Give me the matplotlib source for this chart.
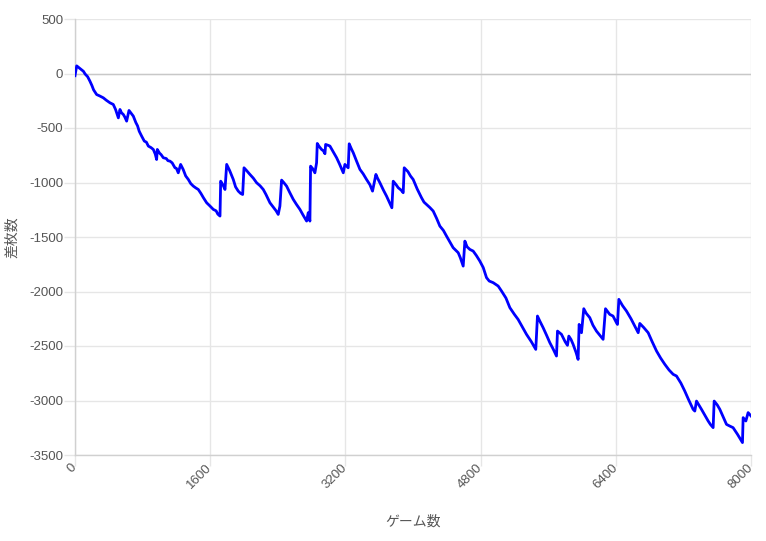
import matplotlib
matplotlib.use("Agg")
import matplotlib.pyplot as plt

games = [0, 20, 60, 100, 120, 150, 177, 200, 220, 256, 290, 335, 370, 414, 453, 480,
         513, 532, 550, 572, 590, 611, 639, 660, 690, 720, 740, 760, 789, 820, 845,
         868, 900, 927, 950, 966, 974, 1000, 1020, 1045, 1080, 1100, 1124, 1150, 1183,
         1200, 1222, 1250, 1280, 1310, 1341, 1370, 1400, 1430, 1459, 1490, 1520, 1558,
         1590, 1637, 1670, 1690, 1716, 1724, 1750, 1775, 1795, 1830, 1873, 1900, 1932,
         1960, 1984, 2000, 2030, 2070, 2110, 2149, 2190, 2228, 2260, 2307, 2350, 2380,
         2405, 2425, 2445, 2470, 2504, 2540, 2583, 2620, 2662, 2700, 2741, 2760, 2780,
         2788, 2810, 2839, 2859, 2867, 2890, 2918, 2940, 2958, 2966, 3000, 3017, 3050,
         3096, 3130, 3175, 3194, 3233, 3245, 3270, 3293, 3330, 3372, 3410, 3450, 3490,
         3521, 3561, 3580, 3608, 3650, 3687, 3720, 3750, 3766, 3800, 3825, 3860, 3884,
         3896, 3940, 3970, 4002, 4050, 4101, 4130, 4160, 4200, 4239, 4280, 4318, 4360,
         4397, 4440, 4475, 4535, 4560, 4594, 4614, 4640, 4673, 4712, 4750, 4791, 4831,
         4870, 4902, 4949, 5008, 5048, 5100, 5146, 5200, 5244, 5290, 5343, 5400, 5453,
         5473, 5500, 5540, 5580, 5619, 5660, 5698, 5710, 5757, 5800, 5828, 5844, 5870,
         5895, 5930, 5954, 5966, 5994, 6021, 6050, 6092, 6130, 6171, 6210, 6250, 6278,
         6328, 6367, 6410, 6420, 6436, 6480, 6526, 6580, 6625, 6665, 6684, 6730, 6783,
         6830, 6882, 6930, 6980, 7030, 7079, 7118, 7170, 7216, 7260, 7315, 7335, 7355,
         7414, 7450, 7493, 7520, 7552, 7564, 7600, 7631, 7670, 7710, 7750, 7788, 7840,
         7887, 7899, 7907, 7939, 7966, 8000]
diff = [-20, 70, 45, 20, -5, -30, -71, -110, -150, -193, -205, -223, -245, -269, -284,
        -330, -407, -330, -360, -376, -400, -437, -339, -360, -391, -450, -480, -530,
        -575, -620, -630, -666, -680, -697, -740, -789, -697, -730, -745, -773, -780,
        -800, -804, -820, -865, -870, -911, -834, -880, -940, -972, -1010, -1033, -1050,
        -1064, -1100, -1140, -1186, -1210, -1247, -1260, -1290, -1308, -988, -1020,
        -1064, -834, -890, -972, -1040, -1079, -1100, -1110, -865, -890, -926, -960,
        -1002, -1030, -1064, -1110, -1186, -1230, -1260, -1293, -1216, -978, -1000,
        -1033, -1090, -1155, -1200, -1247, -1300, -1354, -1277, -1354, -850, -870, -911,
        -819, -642, -670, -697, -710, -736, -651, -660, -666, -710, -773, -830, -911,
        -834, -865, -645, -690, -727, -800, -880, -920, -972, -1020, -1079, -926, -960,
        -1002, -1070, -1125, -1180, -1232, -988, -1020, -1048, -1070, -1094, -865, -900,
        -940, -972, -1060, -1140, -1180, -1201, -1230, -1262, -1330, -1400, -1440, -1492,
        -1550, -1598, -1644, -1690, -1767, -1538, -1590, -1614, -1629, -1670, -1721,
        -1780, -1873, -1904, -1919, -1950, -1996, -2060, -2148, -2210, -2256, -2320,
        -2393, -2460, -2531, -2225, -2270, -2332, -2400, -2469, -2530, -2592, -2363,
        -2393, -2460, -2494, -2409, -2440, -2485, -2560, -2623, -2302, -2378, -2158,
        -2200, -2240, -2310, -2363, -2400, -2439, -2158, -2210, -2225, -2290, -2302,
        -2072, -2130, -2179, -2250, -2317, -2378, -2293, -2330, -2378, -2460, -2546,
        -2610, -2668, -2720, -2760, -2775, -2840, -2913, -2990, -3081, -3097, -3005,
        -3081, -3130, -3188, -3220, -3249, -3005, -3040, -3081, -3150, -3219, -3235,
        -3249, -3310, -3372, -3386, -3157, -3188, -3111, -3142]

x_ticks = [0, 1600, 3200, 4800, 6400, 8000]
y_ticks = [500, 0, -500, -1000, -1500, -2000, -2500, -3000, -3500]

TXT = "#555555"

fig = plt.figure(figsize=(7.66, 5.41), dpi=100)
ax = fig.add_axes([75/766, 1-455/541, (751-75)/766, (455-19)/541])

ax.plot(games, diff, color="#0000ff", lw=2.0, solid_joinstyle="round", zorder=3)

ax.set_xlim(0, 8000)
ax.set_ylim(-3500, 500)
ax.set_xticks(x_ticks)
ax.set_yticks(y_ticks)
ax.set_xticklabels([str(t) for t in x_ticks], rotation=45, ha="right", va="center",
                   rotation_mode="anchor", fontsize=9.5, color=TXT,
                   family=["Liberation Sans"])
ax.set_yticklabels([str(t) for t in y_ticks], fontsize=9.5, color=TXT,
                   family=["Liberation Sans"])

ax.grid(True, color="#e6e6e6", lw=1)
ax.axhline(0, color="#c8c8c8", lw=1, zorder=2)
ax.set_axisbelow(True)
ax.tick_params(axis="both", length=8, color="#e6e6e6", width=1)
ax.tick_params(axis="x", pad=0)
ax.tick_params(axis="y", pad=0.5)
for s in ["top", "right"]:
    ax.spines[s].set_visible(False)
for s in ["left", "bottom"]:
    ax.spines[s].set_color("#d0d0d0")
    ax.spines[s].set_linewidth(1)

fig.text(12/766, 1-237/541, "差枚数", rotation=90, ha="center", va="center",
         fontsize=10, color=TXT, family=["Noto Sans CJK JP", "DejaVu Sans"])
fig.text(413/766, 1-522/541, "ゲーム数", ha="center", va="center",
         fontsize=10, color=TXT, family=["Noto Sans CJK JP", "DejaVu Sans"])

fig.savefig("out.png", dpi=100)
